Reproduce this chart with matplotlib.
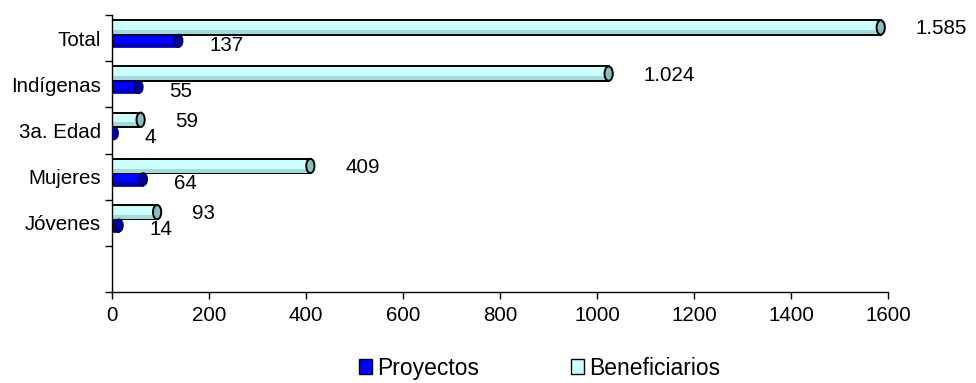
import matplotlib
matplotlib.use("Agg")
import matplotlib.pyplot as plt
from matplotlib.patches import Ellipse, Patch

plt.rcParams['font.family'] = ['Liberation Sans', 'DejaVu Sans']

categorias = ["Total", "Indígenas", "3a. Edad", "Mujeres", "Jóvenes", ""]
proyectos = [137, 55, 4, 64, 14, None]
beneficiarios = [1585, 1024, 59, 409, 93, None]

col_proy = "#0000FF"
col_proy_dark = "#0000B0"
col_proy_cap = "#00009A"
col_bene = "#CCFFFF"
col_bene_dark = "#A6D8D8"
col_bene_cap = "#8FBDBD"


def fmt(v):
    return f"{v:,}".replace(",", ".")


fig = plt.figure(figsize=(9.76, 3.83), dpi=100)
ax = fig.add_axes([112 / 976, 1 - 292 / 383, 776 / 976, 277 / 383])

n = len(categorias)
pos = [n - 1 - i for i in range(n)]

h_bene, off_bene = 0.31, 0.23
h_proy, off_proy = 0.27, -0.06
cap_w = 17  # ancho de la tapa en unidades del eje x

for y, p, b in zip(pos, proyectos, beneficiarios):
    if b is None:
        continue
    yb = y + off_bene
    ax.barh(yb, b, height=h_bene, color=col_bene, edgecolor="black", lw=1.4, zorder=2)
    ax.barh(yb - h_bene * 0.32, b, height=h_bene * 0.28, color=col_bene_dark, lw=0, zorder=2.1)
    ax.add_patch(Ellipse((b, yb), cap_w, h_bene, facecolor=col_bene_cap, edgecolor="black", lw=1.4, zorder=3))
    ax.annotate(fmt(b), (b, yb), xytext=(25, -1), textcoords="offset points",
                ha="left", va="center", fontsize=14.8)

    yp = y + off_proy
    ax.barh(yp, p, height=h_proy, color=col_proy, edgecolor="#000050", lw=1.2, zorder=2)
    ax.barh(yp - h_proy * 0.32, p, height=h_proy * 0.28, color=col_proy_dark, lw=0, zorder=2.1)
    ax.add_patch(Ellipse((p, yp), cap_w, h_proy, facecolor=col_proy_cap, edgecolor="#000040", lw=1.2, zorder=3))
    ax.annotate(fmt(p), (p, yp), xytext=(22, -3), textcoords="offset points",
                ha="left", va="center", fontsize=14.8)

ax.set_xlim(0, 1600)
ax.set_ylim(-0.5, n - 0.5)
ax.set_xticks(range(0, 1601, 200))
ax.set_yticks(pos)
ax.set_yticklabels(categorias)
ax.set_yticks([k - 0.5 for k in range(n + 1)], minor=True)

ax.tick_params(axis="y", which="major", length=0, pad=8, labelsize=14.8)
ax.tick_params(axis="y", which="minor", length=5, width=1, direction="out")
ax.tick_params(axis="x", length=5, width=1, direction="out", pad=5, labelsize=14.8)

for s in ["top", "right"]:
    ax.spines[s].set_visible(False)
for s in ["left", "bottom"]:
    ax.spines[s].set_linewidth(1)
    ax.spines[s].set_color("black")

handles = [Patch(facecolor=col_proy, edgecolor="black", label="Proyectos"),
           Patch(facecolor=col_bene, edgecolor="black", label="Beneficiarios")]
fig.legend(handles=handles, loc="lower left", bbox_to_anchor=(338 / 976, -0.045),
           ncol=2, frameon=False, fontsize=16.5, handlelength=0.6, handleheight=0.6,
           handletextpad=0.2, columnspacing=4.0)

fig.savefig("out.png", dpi=100)
